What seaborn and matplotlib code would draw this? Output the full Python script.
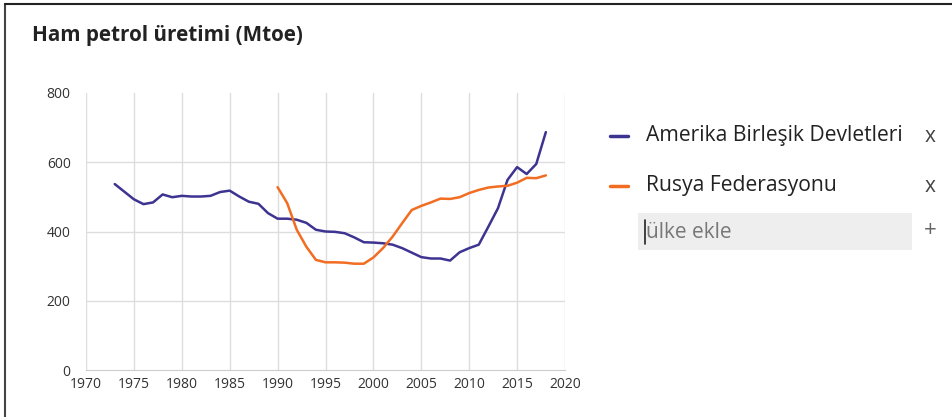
import pandas as pd
import matplotlib.pyplot as plt
import seaborn as sns
from matplotlib.patches import Rectangle
from matplotlib.lines import Line2D

# Crude oil production (Mtoe)
usa_years = list(range(1973, 2019))
usa_values = [537, 515, 493, 479, 484, 507, 499, 503, 501, 501, 503, 514, 518,
              501, 486, 480, 453, 437, 437, 434, 425, 405, 400, 399, 395, 383,
              369, 368, 366, 362, 352, 339, 326, 322, 322, 316, 340, 352, 362,
              414, 467, 549, 586, 566, 595, 687]
rus_years = list(range(1990, 2019))
rus_values = [528, 482, 405, 356, 318, 311, 311, 310, 307, 307, 325, 352, 385,
              424, 462, 474, 484, 495, 494, 499, 511, 520, 527, 530, 532, 541,
              555, 554, 562]

series_names = ['Amerika Birleşik Devletleri', 'Rusya Federasyonu']
colors = ['#3d3391', '#f26c22']
x_ticks = list(range(1970, 2021, 5))
y_ticks = [0, 200, 400, 600, 800]

df = pd.concat([
    pd.DataFrame({'year': usa_years, 'value': usa_values, 'country': series_names[0]}),
    pd.DataFrame({'year': rus_years, 'value': rus_values, 'country': series_names[1]}),
])

sns.set_style('white')
plt.rcParams['font.family'] = ['Open Sans', 'DejaVu Sans']

fig = plt.figure(figsize=(9.53, 4.17), dpi=100)
ax = fig.add_axes([86 / 953, 1 - 370 / 417, 479 / 953, 277 / 417])

sns.lineplot(data=df, x='year', y='value', hue='country', palette=colors,
             hue_order=series_names, linewidth=1.8, legend=False, ax=ax, zorder=3)

ax.set_xlim(1970, 2020)
ax.set_ylim(0, 800)
ax.set_xticks(x_ticks)
ax.set_yticks(y_ticks)
ax.set_xlabel('')
ax.set_ylabel('')
ax.tick_params(axis='both', length=0, labelsize=10, colors='#333333')
ax.tick_params(axis='x', pad=5)
ax.tick_params(axis='y', pad=11)

# grid lines
for x in x_ticks:
    ax.axvline(x, color='#dddddd', linewidth=1, zorder=1)
for y in y_ticks[1:-1]:
    ax.axhline(y, color='#dddddd', linewidth=1, zorder=1)
for side in ['top', 'right', 'left']:
    ax.spines[side].set_visible(False)
ax.spines['bottom'].set_color('#cccccc')

# title
fig.text(32 / 953, 1 - 36 / 417, 'Ham petrol üretimi (Mtoe)', fontsize=14.9,
         fontweight='bold', color='#222222', va='center', ha='left')

# legend panel on the right
for i, name in enumerate(series_names):
    yy = 1 - (136 + 50 * i) / 417
    fig.add_artist(Line2D([610 / 953, 628 / 953], [yy, yy], color=colors[i],
                          linewidth=2.5, transform=fig.transFigure))
    fig.text(646 / 953, yy, name, fontsize=15.2, color='#222222', va='center', ha='left')
    fig.text(930 / 953, yy, 'x', fontsize=15, color='#444444', va='center', ha='center')

fig.add_artist(Rectangle((638 / 953, 1 - 250 / 417), 274 / 953, 37 / 417,
                         transform=fig.transFigure, facecolor='#eeeeee',
                         edgecolor='none'))
fig.add_artist(Line2D([645 / 953, 645 / 953], [1 - 244 / 417, 1 - 220 / 417],
                      color='#222222', linewidth=1.2, transform=fig.transFigure))
fig.text(646 / 953, 1 - 232 / 417, 'ülke ekle', fontsize=15, color='#777777',
         va='center', ha='left')
fig.text(930 / 953, 1 - 230 / 417, '+', fontsize=16, color='#666666',
         va='center', ha='center')

# outer frame (left and top edges only)
fig.add_artist(Line2D([4.5 / 953, 4.5 / 953], [0, 1 - 3.5 / 417], color='#444444',
                      linewidth=1.5, transform=fig.transFigure))
fig.add_artist(Line2D([4.5 / 953, 1], [1 - 3.5 / 417, 1 - 3.5 / 417], color='#222222',
                      linewidth=1.5, transform=fig.transFigure))

plt.savefig('out.png', dpi=100)
plt.close()
